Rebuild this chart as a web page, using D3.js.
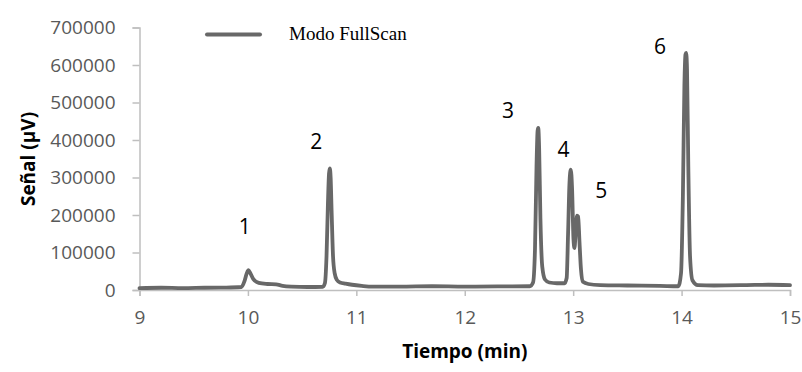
<!DOCTYPE html>
<html>
<head>
<meta charset="utf-8">
<script src="https://cdn.jsdelivr.net/npm/d3@7"></script>
<style>
  body { margin: 0; background: #fff; }
  svg { display: block; }
</style>
</head>
<body>
<div id="chart"></div>
<script>
// retention time (min) and signal (µV)
var times = [9.0, 9.2, 9.4, 9.6, 9.8, 9.94, 9.97, 9.99, 10.005, 10.02, 10.05, 10.1, 10.18, 10.26, 10.32, 10.4, 10.55, 10.69,
  10.71, 10.725, 10.738, 10.748, 10.755, 10.763, 10.772, 10.785, 10.8, 10.82, 10.85, 10.9, 10.96, 11.05, 11.15,
  11.4, 11.7, 12.0, 12.3, 12.6,
  12.63, 12.648, 12.662, 12.672, 12.678, 12.686, 12.698, 12.715, 12.74, 12.78, 12.85, 12.92,
  12.94, 12.953, 12.966, 12.978, 12.99, 13.003, 13.012, 13.024, 13.036, 13.046, 13.058, 13.072, 13.09, 13.14, 13.25,
  13.5, 13.8, 13.97,
  13.995, 14.012, 14.026, 14.036, 14.042, 14.05, 14.062, 14.078, 14.1, 14.15, 14.3, 14.6, 14.8, 15.0];
var signal = [5000, 6000, 5000, 6000, 6500, 8000, 25000, 45000, 53000, 46000, 29000, 19000, 16000, 15000, 11000, 9000, 8000, 8500,
  18000, 90000, 230000, 310000, 324000, 300000, 210000, 90000, 45000, 27000, 20000, 17000, 14000, 11000, 9000,
  9000, 10000, 9000, 9500, 10000,
  20000, 110000, 330000, 425000, 432000, 380000, 190000, 62000, 28000, 20000, 18000, 18000,
  32000, 150000, 285000, 321000, 270000, 135000, 112000, 160000, 198000, 196000, 130000, 55000, 22000, 16000, 13000,
  12000, 11000, 10000,
  45000, 250000, 545000, 628000, 632000, 590000, 330000, 90000, 26000, 13000, 12000, 13000, 14000, 13000];

var xTicks = [9, 10, 11, 12, 13, 14, 15];
var yTicks = [0, 100000, 200000, 300000, 400000, 500000, 600000, 700000];

// peak numbers and where they sit
var peakNames = ["1", "2", "3", "4", "5", "6"];
var peakTimes = [9.97, 10.63, 12.40, 12.91, 13.26, 13.80];
var peakLevels = [150000, 375000, 460000, 355000, 245000, 630000];

var seriesName = "Modo FullScan";

var width = 802, height = 372;
var margin = {left: 139.5, right: 12, top: 27.5, bottom: 82};

var svg = d3.select("#chart").append("svg")
  .attr("width", width)
  .attr("height", height);

var x = d3.scaleLinear()
  .domain([9, 15])
  .range([margin.left, width - margin.right]);

var y = d3.scaleLinear()
  .domain([0, 700000])
  .range([height - margin.bottom, margin.top]);

var axisColor = "#bfbfbf";
var tickFont = "'Open Sans', sans-serif";

// y axis
var yAxis = svg.append("g")
  .attr("transform", "translate(" + margin.left + ",0)")
  .call(d3.axisLeft(y).tickValues(yTicks).tickSize(7).tickPadding(17).tickFormat(d3.format("d")));
yAxis.select(".domain").attr("stroke", axisColor).attr("stroke-width", 1.5);
yAxis.selectAll(".tick line").attr("stroke", axisColor).attr("stroke-width", 1.5);
yAxis.selectAll(".tick text")
  .style("font-family", tickFont)
  .style("font-size", "19px")
  .attr("fill", "#595959");

// x axis
var xAxis = svg.append("g")
  .attr("transform", "translate(0," + y(0) + ")")
  .call(d3.axisBottom(x).tickValues(xTicks).tickSize(6).tickPadding(15).tickFormat(d3.format("d")));
xAxis.select(".domain").attr("stroke", axisColor).attr("stroke-width", 1.5);
xAxis.selectAll(".tick line").attr("stroke", axisColor).attr("stroke-width", 1.5);
xAxis.selectAll(".tick text")
  .style("font-family", tickFont)
  .style("font-size", "19px")
  .attr("fill", "#595959");

// axis titles
svg.append("text")
  .attr("x", (x(9) + x(15)) / 2)
  .attr("y", 358)
  .attr("text-anchor", "middle")
  .style("font-family", tickFont)
  .style("font-weight", "bold")
  .style("font-size", "19px")
  .attr("fill", "#000")
  .text("Tiempo (min)");

svg.append("text")
  .attr("transform", "translate(35," + 159 + ") rotate(-90)")
  .attr("text-anchor", "middle")
  .style("font-family", tickFont)
  .style("font-weight", "bold")
  .style("font-size", "19px")
  .attr("fill", "#000")
  .text("Señal (µV)");

// chromatogram trace
var points = times.map(function(t, i) { return [t, signal[i]]; });
var line = d3.line()
  .x(function(d) { return x(d[0]); })
  .y(function(d) { return y(d[1]); })
  .curve(d3.curveMonotoneX);

svg.append("path")
  .datum(points)
  .attr("fill", "none")
  .attr("stroke", "#686868")
  .attr("stroke-width", 3.8)
  .attr("stroke-linejoin", "round")
  .attr("stroke-linecap", "round")
  .attr("d", line);

// peak numbers
peakNames.forEach(function(name, i) {
  svg.append("text")
    .attr("x", x(peakTimes[i]))
    .attr("y", y(peakLevels[i]))
    .attr("text-anchor", "middle")
    .style("font-family", tickFont)
    .style("font-size", "21px")
    .attr("fill", "#000")
    .text(name);
});

// legend
svg.append("line")
  .attr("x1", 207).attr("x2", 260)
  .attr("y1", 34.5).attr("y2", 34.5)
  .attr("stroke", "#686868")
  .attr("stroke-width", 4)
  .attr("stroke-linecap", "round");

svg.append("text")
  .attr("x", 289)
  .attr("y", 39.5)
  .style("font-family", "'Liberation Serif', 'Times New Roman', serif")
  .style("font-size", "19px")
  .attr("fill", "#000")
  .text(seriesName);
</script>
</body>
</html>
